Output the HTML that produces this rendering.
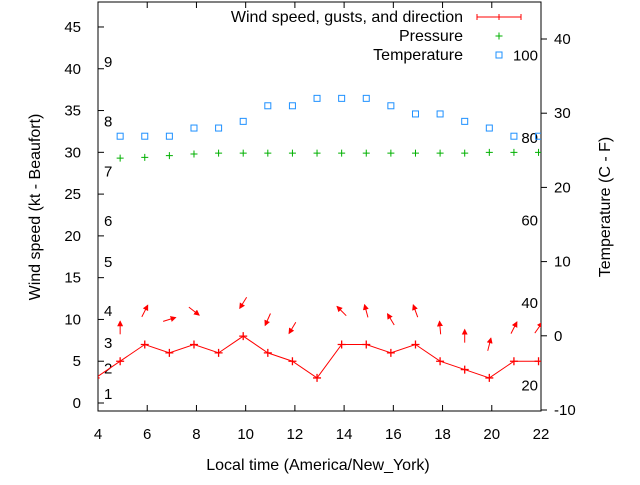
<!DOCTYPE html>
<html><head><meta charset="utf-8"><style>
body{margin:0;background:#fff}
svg text{font-family:"Liberation Sans",sans-serif;font-size:15px;fill:#000}
svg text.big{font-size:16px}
</style></head><body>
<svg id="c" width="640" height="480" xmlns="http://www.w3.org/2000/svg">
</svg>
<script>
const hours=[3.9,4.9,5.9,6.9,7.9,8.9,9.9,10.9,11.9,12.9,13.9,14.9,15.9,16.9,17.9,18.9,19.9,20.9,21.9];
const wind=[3,5,7,6,7,6,8,6,5,3,7,7,6,7,5,4,3,5,5];
const windDir=[null,0,27,73,128,null,212,204,211,null,315,345,329,340,355,0,14,27,35];
const pressure=[null,29.3,29.4,29.6,29.8,29.9,29.9,29.9,29.9,29.9,29.9,29.9,29.9,29.9,29.9,29.9,30,30,30];
const tempC=[null,26.9,26.9,26.9,28,28,28.9,31,31,32,32,32,31,29.9,29.9,28.9,28,26.9,26.9];
const xTicks=[4,6,8,10,12,14,16,18,20,22];
const yTicks=[0,5,10,15,20,25,30,35,40,45];
const y2Ticks=[-10,0,10,20,30,40];
const beaufort=[[1,1.1],[2,4.1],[3,7.2],[4,11.0],[5,16.9],[6,21.8],[7,27.7],[8,33.7],[9,40.8]];
const fahr=[[20,20],[40,40],[60,60],[80,80],[100,100]];
const L=98,R=541,T=2,B=411;
const X=h=>L+(h-4)/18*(R-L);
const Y=v=>403-v*8.356;
const Y2=c=>410-(c+10)*7.42;
const svg=document.getElementById('c');
const NS='http://www.w3.org/2000/svg';
function mk(t,a,p){const e=document.createElementNS(NS,t);for(const k in a)e.setAttribute(k,a[k]);(p||svg).appendChild(e);return e;}
const defs=mk('defs',{});
const cp=mk('clipPath',{id:'clip'},defs);mk('rect',{x:L,y:T,width:R-L,height:B-T},cp);
const mm=mk('marker',{id:'ah',markerWidth:6,markerHeight:6,refX:5,refY:3,orient:'auto',markerUnits:'userSpaceOnUse'},defs);
mk('path',{d:'M0,0 L6,3 L0,6 Z',fill:'red'},mm);
let f=mk('rect',{x:L,y:T,width:R-L,height:B-T,fill:'none',stroke:'#000','stroke-width':1});

xTicks.forEach(t=>{const x=X(t);
 let l=mk('line',{x1:x,x2:x,y1:B,y2:B-6,stroke:'#000'});
 mk('line',{x1:x,x2:x,y1:T,y2:T+6,stroke:'#000'});
 let s=mk('text',{x:x,y:439,'text-anchor':'middle'});s.textContent=t;
 });
yTicks.forEach(t=>{const y=Y(t);
 let l=mk('line',{x1:L,x2:L+6,y1:y,y2:y,stroke:'#000'});
 let s=mk('text',{x:81,y:y+5,'text-anchor':'end'});s.textContent=t;
 });
y2Ticks.forEach(t=>{const y=Y2(t);
 let l=mk('line',{x1:R,x2:R+6,y1:y,y2:y,stroke:'#000'});
 let s=mk('text',{x:554,y:y+5,'text-anchor':'start'});s.textContent=t;
 });
beaufort.forEach(b=>{let s=mk('text',{x:104,y:Y(b[1])+5});s.textContent=b[0];
 });
fahr.forEach(b=>{const c=(b[1]-32)*5/9;let s=mk('text',{x:538,y:Y2(c)+5,'text-anchor':'end'});s.textContent=b[0];
 });
const g=mk('g',{'clip-path':'url(#clip)'});
let wl=mk('polyline',{points:hours.map((h,i)=>X(h)+','+Y(wind[i])).join(' '),fill:'none',stroke:'red','stroke-width':1},g);

hours.forEach((h,i)=>{const x=X(h),y=Y(wind[i]);
 let p=mk('path',{d:`M${x-4},${y}h8M${x},${y-4}v8`,stroke:'red','stroke-width':1.3},g);
 
 if(windDir[i]!==null){const a=windDir[i]*Math.PI/180,cx=x,cy=Y(wind[i]+4),dx=Math.sin(a)*6.5,dy=-Math.cos(a)*6.5;
  let ar=mk('line',{x1:cx-dx,y1:cy-dy,x2:cx+dx,y2:cy+dy,stroke:'red','stroke-width':1,'marker-end':'url(#ah)'},g);
  }
 if(pressure[i]!==null){const py=Y(pressure[i]);
 let pp=mk('path',{d:`M${x-3.5},${py}h7M${x},${py-3.5}v7`,stroke:'#00b000','stroke-width':1},g);
 }
 if(tempC[i]!==null){const ty=Y2(tempC[i]);
 let tq=mk('rect',{x:x-3,y:ty-3,width:6,height:6,fill:'none',stroke:'#1e90ff','stroke-width':1},g);
 }
});
const lg=mk('g',{});
[['Wind speed, gusts, and direction',17],['Pressure',36],['Temperature',55]].forEach(e=>{
 let s=mk('text',{x:463,y:e[1]+5,'text-anchor':'end','class':'big'},lg);s.textContent=e[0];
 });
mk('path',{d:'M477,17h44M477,14v6M499,14v6M521,14v6',stroke:'red','stroke-width':1},lg);
mk('path',{d:'M495.5,36h7M499,32.5v7',stroke:'#00b000'},lg);
mk('rect',{x:496,y:52,width:6,height:6,fill:'none',stroke:'#1e90ff'},lg);
let xt=mk('text',{x:318,y:470,'text-anchor':'middle','class':'big'});xt.textContent='Local time (America/New_York)';

let yt=mk('text',{x:0,y:0,'text-anchor':'middle','class':'big',transform:'translate(40,207) rotate(-90)'});yt.textContent='Wind speed (kt - Beaufort)';

let y2t=mk('text',{x:0,y:0,'text-anchor':'middle','class':'big',transform:'translate(610,207) rotate(-90)'});y2t.textContent='Temperature (C - F)';

</script>
</body></html>
